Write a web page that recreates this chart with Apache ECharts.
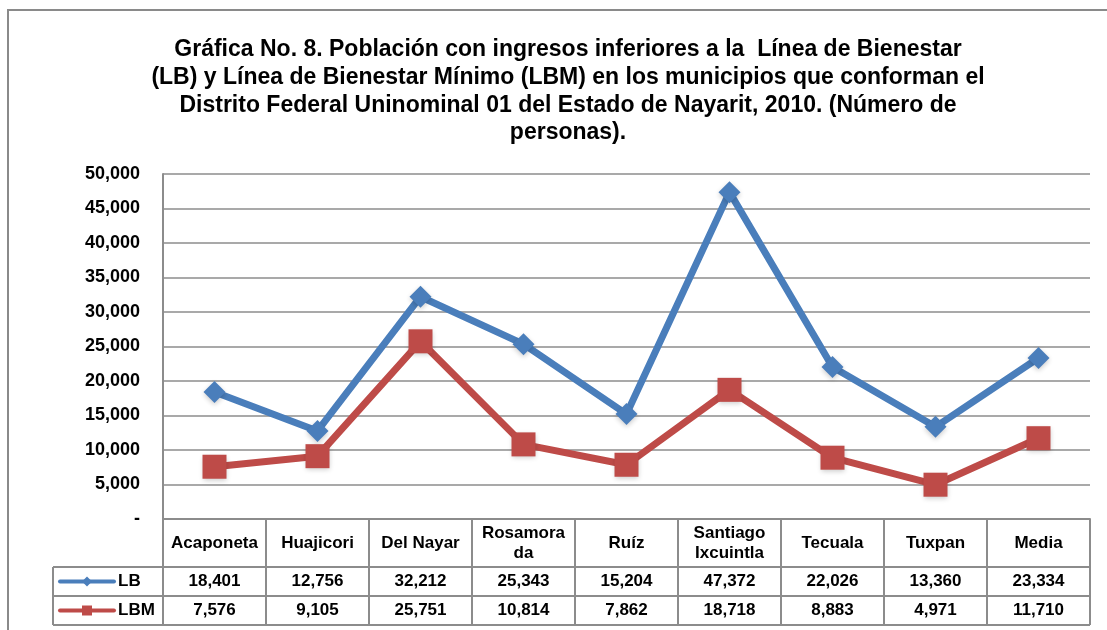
<!DOCTYPE html>
<html>
<head>
<meta charset="utf-8">
<script src="https://cdn.jsdelivr.net/npm/echarts@6/dist/echarts.min.js"></script>
<style>
  html, body { margin: 0; padding: 0; background: #fff; }
  #chart { width: 1107px; height: 630px; }
</style>
</head>
<body>
<div id="chart"></div>
<script>
// datos de la gráfica
const municipios = ['Acaponeta', 'Huajicori', 'Del Nayar', 'Rosamora\nda', 'Ruíz', 'Santiago\nIxcuintla', 'Tecuala', 'Tuxpan', 'Media'];
const lb = [18401, 12756, 32212, 25343, 15204, 47372, 22026, 13360, 23334];
const lbm = [7576, 9105, 25751, 10814, 7862, 18718, 8883, 4971, 11710];
const seriesNames = ['LB', 'LBM'];
const yMax = 50000;
const yStep = 5000;

const FONT = '"Liberation Sans", Arial, sans-serif';
const BLUE = '#4a7ebb';
const RED = '#be4b48';
const GRID = '#8c8c8c';

const fmt = v => v === 0 ? '-' : v.toLocaleString('en-US');

const chart = echarts.init(document.getElementById('chart'));

const option = {
  backgroundColor: '#fff',
  animation: false,
  title: {
    text: 'Gráfica No. 8. Población con ingresos inferiores a la  Línea de Bienestar\n' +
      '(LB) y Línea de Bienestar Mínimo (LBM) en los municipios que conforman el\n' +
      'Distrito Federal Uninominal 01 del Estado de Nayarit, 2010. (Número de\n' +
      'personas).',
    left: 563,
    top: 31,
    textAlign: 'center',
    textStyle: { fontFamily: FONT, fontSize: 23, fontWeight: 'bold', color: '#000', lineHeight: 27.7 }
  },
  grid: { left: 163, right: 17, top: 174, bottom: 111 },
  xAxis: {
    type: 'category',
    data: municipios,
    boundaryGap: true,
    axisLine: { lineStyle: { color: GRID, width: 2 } },
    axisTick: { show: false },
    axisLabel: { show: false }
  },
  yAxis: {
    type: 'value',
    min: 0,
    max: yMax,
    interval: yStep,
    axisLine: { show: true, lineStyle: { color: GRID, width: 2 } },
    axisTick: { show: false },
    axisLabel: {
      margin: 23,
      formatter: fmt,
      fontFamily: FONT, fontSize: 18, fontWeight: 'bold', color: '#000'
    },
    splitLine: { lineStyle: { color: GRID, width: 1.5 } }
  },
  series: [
    {
      name: seriesNames[0],
      type: 'line',
      data: lb,
      symbol: 'diamond',
      symbolSize: 22,
      lineStyle: { color: BLUE, width: 7 },
      itemStyle: { color: BLUE, shadowBlur: 5, shadowColor: 'rgba(0,0,0,0.2)', shadowOffsetY: 2 },
      z: 3
    },
    {
      name: seriesNames[1],
      type: 'line',
      data: lbm,
      symbol: 'rect',
      symbolSize: 24,
      lineStyle: { color: RED, width: 7 },
      itemStyle: { color: RED, shadowBlur: 5, shadowColor: 'rgba(0,0,0,0.2)', shadowOffsetY: 2 },
      z: 4
    }
  ]
};
chart.setOption(option);

// tabla de datos debajo del eje
const xs = municipios.map((m, i) => chart.convertToPixel({ xAxisIndex: 0 }, i));
const colW = xs[1] - xs[0];
const tLeft = xs[0] - colW / 2;
const tRight = xs[xs.length - 1] + colW / 2;
const y0 = chart.convertToPixel({ yAxisIndex: 0 }, 0);
const headH = 48, rowH = 29;
const legLeft = 53;
const yRow1 = y0 + headH, yRow2 = yRow1 + rowH, yEnd = yRow2 + rowH;
const lineSt = { stroke: GRID, lineWidth: 2 };
const txt = (x, y, text, align) => ({
  type: 'text', x, y,
  style: { text, fontFamily: FONT, fontSize: 17, fontWeight: 'bold', fill: '#000',
    align: align || 'center', verticalAlign: 'middle', lineHeight: 20 }
});

const g = [];
g.push({ type: 'rect', shape: { x: 8, y: 10, width: 1120, height: 640 },
  style: { fill: null, stroke: '#8a8a8a', lineWidth: 2 }, silent: true });
for (let i = 0; i <= municipios.length; i++) {
  const x = tLeft + i * colW;
  g.push({ type: 'line', shape: { x1: x, y1: y0, x2: x, y2: yEnd }, style: lineSt });
}
g.push({ type: 'line', shape: { x1: legLeft, y1: yRow1, x2: legLeft, y2: yEnd }, style: lineSt });
[yRow1, yRow2, yEnd].forEach(y => {
  g.push({ type: 'line', shape: { x1: legLeft, y1: y, x2: tRight, y2: y }, style: lineSt });
});
municipios.forEach((m, i) => {
  g.push(txt(xs[i], y0 + headH / 2, m));
  g.push(txt(xs[i], yRow1 + rowH / 2, fmt(lb[i])));
  g.push(txt(xs[i], yRow2 + rowH / 2, fmt(lbm[i])));
});
// claves de la leyenda
[[yRow1, BLUE, 'diamond'], [yRow2, RED, 'rect']].forEach(([y, c, s], k) => {
  const cy = y + rowH / 2;
  g.push({ type: 'line', shape: { x1: 60, y1: cy, x2: 114, y2: cy },
    style: { stroke: c, lineWidth: 4, lineCap: 'round' } });
  if (s === 'diamond') {
    g.push({ type: 'polygon', shape: { points: [[87, cy - 5], [92, cy], [87, cy + 5], [82, cy]] }, style: { fill: c } });
  } else {
    g.push({ type: 'rect', shape: { x: 82, y: cy - 5, width: 10, height: 10 }, style: { fill: c } });
  }
  g.push(txt(118, cy, seriesNames[k], 'left'));
});
chart.setOption({ graphic: g });
</script>
</body>
</html>
